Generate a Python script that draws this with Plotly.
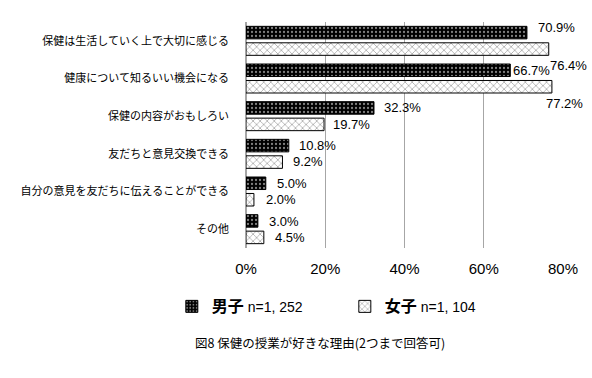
import plotly.graph_objects as go

categories = [
    "保健は生活していく上で大切に感じる",
    "健康について知るいい機会になる",
    "保健の内容がおもしろい",
    "友だちと意見交換できる",
    "自分の意見を友だちに伝えることができる",
    "その他",
]
male_values = [70.9, 66.7, 32.3, 10.8, 5.0, 3.0]
female_values = [76.4, 77.2, 19.7, 9.2, 2.0, 4.5]
male_name = "男子"
female_name = "女子"
male_n = "n=1, 252"
female_n = "n=1, 104"
x_ticks = [0, 20, 40, 60, 80]
caption = "図8 保健の授業が好きな理由(2つまで回答可)"

# label offsets (style only, px)
male_dx = [9, 1, 8, 8, 9, 9]
male_dy = [-5, 0, -1, 0, 0, 0]
female_dx = [-1, -8, 7, 9, 10, 9]
female_dy = [17, 17, 0, 0, 0, 0]

JP = "Noto Sans CJK JP"
NUM = "Liberation Sans"

fig = go.Figure()
fig.add_trace(go.Bar(
    y=categories, x=male_values, orientation="h",
    name=f"<span style='font-size:16px;font-family:{JP}'><b>{male_name}</b></span> {male_n}",
    marker=dict(color="black", line=dict(color="black", width=1),
                pattern=dict(shape=".", fgcolor="white", bgcolor="black", size=4, solidity=0.25)),
))
fig.add_trace(go.Bar(
    y=categories, x=female_values, orientation="h",
    name=f"<span style='font-size:16px;font-family:{JP}'><b>{female_name}</b></span> {female_n}",
    marker=dict(color="white", line=dict(color="black", width=1),
                pattern=dict(shape="x", fgcolor="black", bgcolor="white", size=5, solidity=0.2)),
))

# data labels
for vals, dxs, dys, base in ((male_values, male_dx, male_dy, -8), (female_values, female_dx, female_dy, 8)):
    for c, v, dx, dy in zip(categories, vals, dxs, dys):
        fig.add_annotation(x=v, y=c, xref="x", yref="y", text=f"{v:.1f}%",
                           showarrow=False, xanchor="left", yanchor="middle",
                           xshift=dx, yshift=-(base + dy),
                           font=dict(family=NUM, size=13, color="black"))

fig.add_annotation(x=0.233, y=-0.42, xref="paper", yref="paper", text=caption,
                   showarrow=False, xanchor="center", yanchor="middle",
                   font=dict(family=JP, size=12.5, color="black"))

fig.update_layout(
    width=592, height=378,
    margin=dict(l=246, r=29, t=22, b=130),
    paper_bgcolor="white", plot_bgcolor="white",
    barmode="group", bargap=0.125, bargroupgap=0.24,
    showlegend=True,
    legend=dict(orientation="h", x=-0.234, y=-0.26, xanchor="left", yanchor="middle",
                font=dict(family=NUM, size=14, color="black"),
                entrywidth=128, traceorder="normal"),
    xaxis=dict(range=[0, 80], tickvals=x_ticks, ticktext=[f"{t}%" for t in x_ticks],
               showgrid=True, gridcolor="#a6a6a6", gridwidth=1,
               zeroline=True, zerolinecolor="#a6a6a6", zerolinewidth=2,
               showline=False, ticks="", ticklabelstandoff=10, automargin=False,
               tickfont=dict(family=NUM, size=15, color="black")),
    yaxis=dict(categoryorder="array", categoryarray=categories,
               range=[len(categories) - 0.5, -0.5], showgrid=False,
               showline=False, ticks="",
               ticklabelstandoff=16, automargin=False,
               tickfont=dict(family=JP, size=11, color="black")),
    font=dict(family=JP),
)

fig.write_html("out.html", config={"displayModeBar": False},
               post_script="document.body.style.margin='0';")
